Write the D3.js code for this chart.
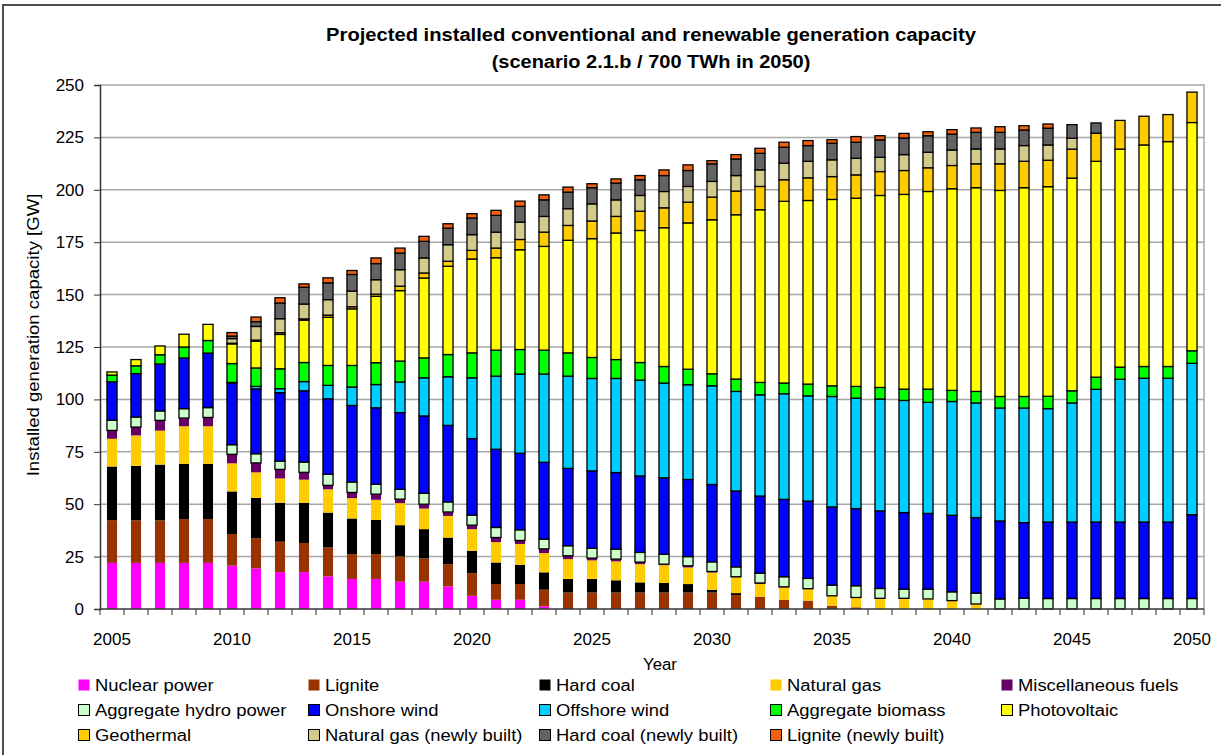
<!DOCTYPE html>
<html>
<head>
<meta charset="utf-8">
<script src="https://cdn.jsdelivr.net/npm/d3@7"></script>
<style>
  body { margin: 0; background: #fff; }
  text { font-family: Arial, "Liberation Sans", sans-serif; fill: #000; }
</style>
</head>
<body>
<svg id="chart" width="1221" height="755"></svg>
<script>
// ---- data (GW) ----
const years = [2005, 2006, 2007, 2008, 2009, 2010, 2011, 2012, 2013, 2014, 2015, 2016, 2017, 2018, 2019,
  2020, 2021, 2022, 2023, 2024, 2025, 2026, 2027, 2028, 2029, 2030, 2031, 2032, 2033, 2034, 2035,
  2036, 2037, 2038, 2039, 2040, 2041, 2042, 2043, 2044, 2045, 2046, 2047, 2048, 2049, 2050];

const yTicks = [0, 25, 50, 75, 100, 125, 150, 175, 200, 225, 250];
const xLabels = [2005, 2010, 2015, 2020, 2025, 2030, 2035, 2040, 2045, 2050];

const nuclear = [22, 22, 22, 22, 22, 20.7, 19.4, 17.6, 17.6, 15.6, 14.3, 14.3, 13, 13, 10.8, 6.3, 4.4, 4.4, 1.3,
  0, 0, 0, 0, 0, 0, 0, 0, 0, 0, 0, 0, 0, 0, 0, 0, 0, 0, 0, 0, 0, 0, 0, 0, 0, 0, 0];
const lignite = [20.4, 20.3, 20.3, 20.9, 20.9, 15.1, 14.3, 14.5, 13.9, 13.8, 11.9, 11.9, 12.1, 11.1, 10.6, 10.8,
  7.5, 7.5, 7.9, 7.9, 7.9, 7.9, 7.9, 7.9, 7.9, 7.9, 6.7, 5.9, 4.4, 4.0, 1.6, 0.8,
  0, 0, 0, 0, 0, 0, 0, 0, 0, 0, 0, 0, 0, 0];
const hardCoal = [25.6, 26, 26.6, 26.4, 26.4, 20.3, 19.3, 18.6, 19.1, 16.6, 17, 16.3, 14.9, 14, 12.7, 10.7,
  10.3, 9.2, 8.3, 6.4, 6.4, 5.8, 4.8, 4.5, 4, 1.3, 0.9,
  0, 0, 0, 0, 0, 0, 0, 0, 0, 0, 0, 0, 0, 0, 0, 0, 0, 0, 0];
const naturalGas = [13.2, 14.5, 16.2, 17.9, 17.9, 13.4, 12.2, 11.6, 11.1, 11.1, 9.7, 9.6, 10.5, 9.8, 10.3,
  10.3, 9.7, 9.9, 9.2, 9.5, 8.9, 9, 8.7, 8.5, 7.9, 8.2, 7.5, 6, 5.9, 5.5, 4.7, 4.7, 5.1, 5.1, 4.8, 4, 2.4,
  0, 0, 0, 0, 0, 0, 0, 0, 0];
const miscFuels = [4, 4, 4.9, 3.9, 4.2, 4.3, 4.5, 4.3, 3.5, 1.9, 2.7, 2.7, 1.9, 2.1, 1.9, 1.9, 2.2, 1.7, 2, 1.6,
  1.1, 1.1, 1, 0.5, 0.8, 0.5, 0.3, 0.5, 0.3, 0.2,
  0, 0, 0, 0, 0, 0, 0, 0, 0, 0, 0, 0, 0, 0, 0, 0];
const hydro = [4.9, 4.8, 4.5, 4.5, 4.7, 4.6, 4.4, 4, 4.9, 5.3, 5, 4.7, 4.7, 5.2, 4.8, 4.8, 4.8, 5.1, 4.6, 4.8,
  4.7, 4.8, 4.6, 4.7, 4.4, 4.6, 4.7, 4.7, 4.8, 4.9, 5.1, 5.6, 4.7, 4.4, 4.7, 4.2, 5.2, 4.8, 5.1, 5,
  5, 5, 5, 5, 5, 5];
const onshore = [18.3, 20.7, 22.4, 24.2, 26, 29.4, 30.9, 32.6, 34, 36, 36.5, 36.5, 36.6, 36.9, 36.5, 36.5,
  37.3, 36.5, 36.7, 36.9, 36.9, 36.5, 36.5, 36.5, 36.8, 36.9, 36.2, 36.8, 36.9, 36.9, 37.3, 36.8, 37,
  36.5, 36.1, 36.5, 36, 37.2, 36.1, 36.5, 36.5, 36.5, 36.5, 36.5, 36.5, 40];
const offshore = [0, 0, 0, 0, 0, 0.3, 1.2, 1.9, 4.4, 6.4, 8.8, 11.1, 14.6, 18.2, 23.2, 29, 34.9, 37.8, 42.1,
  44, 44.1, 44.9, 45.7, 45.2, 45.2, 47.1, 47.5, 48.3, 50.4, 50.2, 52.7, 52.7, 53.4, 53.5, 53, 54.3,
  54.7, 53.9, 54.7, 54.1, 56.8, 63.3, 68.1, 68.6, 68.6, 72.2];
const biomass = [3.2, 3.7, 4.4, 5.2, 6, 9, 8.8, 9.5, 9.1, 9.5, 10.3, 10.4, 10, 9.5, 10.6, 11.9, 12.4, 11.7,
  11.4, 11.1, 10, 9, 8.4, 7.9, 7.4, 5.7, 5.9, 5.9, 5.1, 5.6, 5.1, 5.6, 5.5, 5.4, 6.3, 5.3, 5.5, 5.5,
  5.5, 5.9, 5.8, 5.8, 5.8, 5.6, 5.6, 6];
const photovoltaic = [1.5, 3, 4.2, 6.1, 7.7, 9.4, 12.8, 16.4, 20.2, 23, 27, 31.7, 33.6, 38.1, 42.1, 44.8,
  44.1, 47.6, 49.5, 53.7, 56.7, 60.4, 63, 66.2, 69.8, 73.5, 78.4, 82.4, 86.7, 87.6, 88.9, 89.8, 91.6,
  92.9, 94.3, 96.2, 97.2, 98.3, 99.6, 100, 101.5, 103, 104, 105.7, 107.3, 108.9];
const geothermal = [0, 0, 0, 0, 0, 0.3, 0.5, 0.8, 0.6, 1, 1, 1, 2.1, 2.4, 2.4, 4.1, 4.6, 4.9, 6.8, 7.1, 8.4,
  7.9, 9.2, 9.5, 9.9, 10.8, 11.3, 11.1, 10.3, 10.8, 10.9, 11.1, 11.4, 11.4, 11.3, 11.1, 11.4, 12.7,
  12.6, 12.6, 13.8, 13.4, 13.7, 13.7, 12.9, 14.5];
const gasNew = [0, 0, 0, 0, 0, 2.2, 6.5, 6.7, 7.1, 7.4, 7.5, 6.9, 7.9, 7.2, 7.9, 7.5, 7.6, 8.3, 7.5, 8, 8.2,
  7.9, 7.5, 7.8, 7.5, 7.5, 7.4, 7.9, 7.9, 7.9, 8, 7.9, 6.8, 7.6, 7.4, 7.4, 7.1, 7.1, 7.5, 7.3, 5.2,
  0, 0, 0, 0, 0];
const coalNew = [0, 0, 0, 0, 0, 1.2, 2.3, 7.5, 8, 8, 7.9, 7.7, 7.9, 7.9, 7.9, 7.9, 8, 7.5, 7.9, 7.9, 7.7, 8,
  7.5, 7.6, 7.6, 8.4, 7.9, 7.9, 7.6, 7.5, 7.9, 7.7, 8.3, 7.9, 7.9, 7.6, 7.9, 7.9, 7.4, 8, 6.5, 4.9,
  0, 0, 0, 0];
const ligniteNew = [0, 0, 0, 0, 0, 1.7, 2.2, 2.5, 1.6, 2.4, 1.9, 2.7, 2.4, 2.4, 2.1, 2.1, 2.4, 2.5, 2.4, 2.4,
  1.9, 2, 2, 2.7, 2.7, 1.5, 2.1, 2.4, 2.4, 2.4, 1.7, 2.7, 2, 2.2, 1.9, 2.1, 2.1, 2.7, 2.1, 2,
  0, 0, 0, 0, 0, 0];

const seriesNames = ["Nuclear power", "Lignite", "Hard coal", "Natural gas", "Miscellaneous fuels",
  "Aggregate hydro power", "Onshore wind", "Offshore wind", "Aggregate biomass", "Photovoltaic",
  "Geothermal", "Natural gas (newly built)", "Hard coal (newly built)", "Lignite (newly built)"];
const seriesValues = [nuclear, lignite, hardCoal, naturalGas, miscFuels, hydro, onshore, offshore,
  biomass, photovoltaic, geothermal, gasNew, coalNew, ligniteNew];
const seriesColors = ["#ff00ff", "#993300", "#000000", "#ffcc00", "#660066", "#ccffcc", "#0000ff",
  "#00ccff", "#00ff00", "#ffff00", "#ffcc00", "#d2cb8c", "#636363", "#f06010"];
// the first five series are drawn without an outline, the rest with a black one
const outlined = seriesNames.map((d, i) => i >= 5);

// the original text is rendered a bit wider than Arial, stretch it horizontally
function stretch(sel, factor) {
  sel.each(function () {
    const w = this.getComputedTextLength();
    this.setAttribute("textLength", w * factor);
    this.setAttribute("lengthAdjust", "spacingAndGlyphs");
  });
}

// ---- layout ----
const svg = d3.select("#chart");
const plot = { left: 100, right: 1204, top: 85, bottom: 609 };

const x = d3.scaleBand()
  .domain(years)
  .range([plot.left, plot.right])
  .paddingInner(0.58)
  .paddingOuter(0.29);

const y = d3.scaleLinear()
  .domain([0, 250])
  .range([plot.bottom, plot.top]);

// rows for the stack
const table = years.map((yr, i) => {
  const row = { year: yr };
  seriesNames.forEach((name, s) => { row[name] = seriesValues[s][i]; });
  return row;
});
const stacked = d3.stack().keys(seriesNames)(table);

// outer chart frame (only top/left visible in the picture)
svg.append("path")
  .attr("d", "M3,755 V5 H1221")
  .attr("fill", "none")
  .attr("stroke", "#4d4d4d")
  .attr("stroke-width", 2);

// gridlines
svg.append("g")
  .selectAll("line")
  .data(yTicks.filter(t => t > 0 && t < 250))
  .join("line")
  .attr("x1", plot.left)
  .attr("x2", plot.right)
  .attr("y1", d => y(d))
  .attr("y2", d => y(d))
  .attr("stroke", "#a6a6a6")
  .attr("stroke-width", 1.5);

// plot border top/right
svg.append("path")
  .attr("d", `M${plot.left},${plot.top} H${plot.right} V${plot.bottom}`)
  .attr("fill", "none")
  .attr("stroke", "#a6a6a6")
  .attr("stroke-width", 1.5);

// bars
const layers = svg.append("g")
  .selectAll("g")
  .data(stacked)
  .join("g")
  .attr("fill", (d, i) => seriesColors[i])
  .attr("stroke", (d, i) => outlined[i] ? "#000" : "none")
  .attr("stroke-width", 1.3);

layers.selectAll("rect")
  .data(d => d.filter(p => p[1] - p[0] > 0))
  .join("rect")
  .attr("x", d => x(d.data.year))
  .attr("width", x.bandwidth())
  .attr("y", d => y(d[1]))
  .attr("height", d => y(d[0]) - y(d[1]));

// y axis
const yAxis = svg.append("g")
  .attr("transform", `translate(${plot.left},0)`)
  .call(d3.axisLeft(y).tickValues(yTicks).tickSize(6).tickPadding(10));
yAxis.select(".domain").attr("stroke", "#333").attr("stroke-width", 1.5);
yAxis.selectAll(".tick line").attr("stroke", "#333");
yAxis.selectAll("text").attr("font-size", 17);

// x axis: ticks at category boundaries, labels every five years
const step = x.step();
const xAxis = svg.append("g");
xAxis.append("line")
  .attr("x1", plot.left).attr("x2", plot.right)
  .attr("y1", plot.bottom).attr("y2", plot.bottom)
  .attr("stroke", "#333").attr("stroke-width", 1.5);
xAxis.selectAll(".xtick")
  .data(years.concat([null]))
  .join("line")
  .attr("class", "xtick")
  .attr("x1", (d, i) => plot.left + i * step)
  .attr("x2", (d, i) => plot.left + i * step)
  .attr("y1", plot.bottom)
  .attr("y2", plot.bottom + 6)
  .attr("stroke", "#333");
xAxis.selectAll(".xlabel")
  .data(xLabels)
  .join("text")
  .attr("class", "xlabel")
  .attr("x", d => x(d) + x.bandwidth() / 2)
  .attr("y", 645)
  .attr("text-anchor", "middle")
  .attr("font-size", 17)
  .text(d => d);

// axis titles
svg.append("text")
  .attr("x", 660).attr("y", 670)
  .attr("text-anchor", "middle")
  .attr("font-size", 16)
  .text("Year")
  .call(stretch, 1.05);

svg.append("text")
  .attr("transform", "translate(39,335) rotate(-90)")
  .attr("text-anchor", "middle")
  .attr("font-size", 16)
  .text("Installed generation capacity [GW]")
  .call(stretch, 1.16);

// title
svg.append("text")
  .attr("x", 651).attr("y", 41)
  .attr("text-anchor", "middle")
  .attr("font-size", 18)
  .attr("font-weight", "bold")
  .text("Projected installed conventional and renewable generation capacity")
  .call(stretch, 1.12);
svg.append("text")
  .attr("x", 651).attr("y", 68)
  .attr("text-anchor", "middle")
  .attr("font-size", 18)
  .attr("font-weight", "bold")
  .text("(scenario 2.1.b / 700 TWh in 2050)")
  .call(stretch, 1.11);

// legend: 5 columns, 3 rows
const legendCols = [78, 308, 539, 770, 1001];
const legendRows = [685, 710, 735];
const legend = svg.append("g")
  .selectAll("g")
  .data(seriesNames)
  .join("g")
  .attr("transform", (d, i) => `translate(${legendCols[i % 5]},${legendRows[Math.floor(i / 5)]})`);
legend.append("rect")
  .attr("x", 0.5).attr("y", -5.5)
  .attr("width", 11).attr("height", 11)
  .attr("fill", (d, i) => seriesColors[i])
  .attr("stroke", (d, i) => outlined[i] ? "#000" : "none");
legend.append("text")
  .attr("x", 17).attr("y", 6)
  .attr("font-size", 16)
  .text(d => d)
  .call(stretch, 1.15);
</script>
</body>
</html>
